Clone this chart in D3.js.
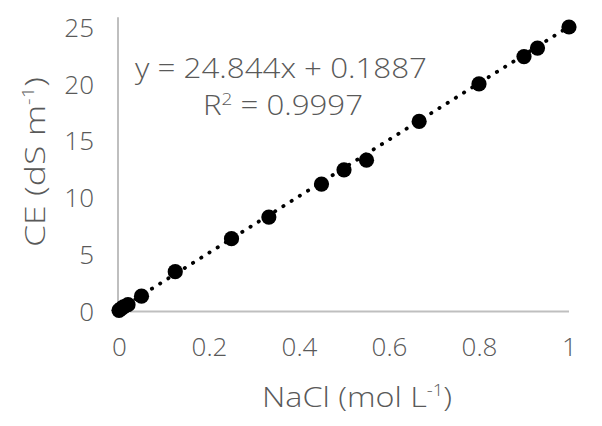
<!DOCTYPE html>
<html>
<head>
<meta charset="utf-8">
<script src="https://cdn.jsdelivr.net/npm/d3@7"></script>
<style>
  html, body { margin: 0; padding: 0; background: #ffffff; }
  svg { display: block; }
  text { font-family: "Open Sans", sans-serif; font-weight: 300; fill: #595959; }
</style>
</head>
<body>
<svg id="chart" width="602" height="426"></svg>
<script>
// Data
const nacl = [0, 0.005, 0.01, 0.02, 0.05, 0.125, 0.25, 0.333, 0.45, 0.5, 0.55, 0.667, 0.8, 0.9, 0.93, 1.0];
const ce   = [0.1, 0.25, 0.4, 0.6, 1.35, 3.5, 6.4, 8.3, 11.2, 12.45, 13.3, 16.7, 20.0, 22.4, 23.15, 25.0];
const xTicks = [0, 0.2, 0.4, 0.6, 0.8, 1];
const xTickLabels = ["0", "0.2", "0.4", "0.6", "0.8", "1"];
const yTicks = [0, 5, 10, 15, 20, 25];
const slope = 24.844, intercept = 0.1887;
const eqText = "y = 24.844x + 0.1887";
const r2Value = "0.9997";

const svg = d3.select("#chart");
const x = d3.scaleLinear().domain([0, 1]).range([119, 569]);
const y = d3.scaleLinear().domain([0, 25]).range([311.5, 27]);
const axisColor = "#bfbfbf";
const textFont = "Open Sans";

// Axis lines
const xAxis = d3.axisBottom(x).tickValues(xTicks).tickSize(0).tickFormat((d, i) => xTickLabels[i]);
const gx = svg.append("g").attr("transform", `translate(0,${y(0)})`).call(xAxis);
gx.select(".domain").attr("stroke", axisColor).attr("stroke-width", 2).attr("d", `M${x(0) - 1},0H${x(1)}`);
gx.selectAll(".tick text").attr("font-size", 26).attr("font-family", textFont).attr("font-weight", 300).attr("fill", "#595959").attr("dy", 0).attr("y", 44);

const yAxis = d3.axisLeft(y).tickValues(yTicks).tickSize(0);
const gy = svg.append("g").attr("transform", `translate(${x(0) - 1},0)`).call(yAxis);
gy.select(".domain").attr("stroke", axisColor).attr("stroke-width", 2).attr("d", `M0,${y(0)}V${y(25.85)}`);
gy.selectAll(".tick text").attr("font-size", 26).attr("font-family", textFont).attr("font-weight", 300).attr("fill", "#595959").attr("x", -24).attr("dy", "0.35em");
svg.selectAll(".tick line").remove();

// Trendline (dotted)
svg.append("line")
  .attr("x1", x(0)).attr("y1", y(intercept))
  .attr("x2", x(1)).attr("y2", y(slope + intercept))
  .attr("stroke", "#000").attr("stroke-width", 3.8)
  .attr("stroke-linecap", "round")
  .attr("stroke-dasharray", "0.3 9.4");

// Points
svg.append("g").selectAll("circle")
  .data(nacl.map((v, i) => [v, ce[i]]))
  .join("circle")
  .attr("cx", d => x(d[0]))
  .attr("cy", d => y(d[1]))
  .attr("r", 7.6)
  .attr("fill", "#000");

// Equation labels
svg.append("text")
  .attr("x", 135).attr("y", 78)
  .attr("font-size", 28)
  .attr("textLength", 292).attr("lengthAdjust", "spacingAndGlyphs")
  .text(eqText);

const r2 = svg.append("text")
  .attr("x", 203).attr("y", 115)
  .attr("font-size", 28)
  .attr("textLength", 160).attr("lengthAdjust", "spacingAndGlyphs");
r2.append("tspan").text("R");
r2.append("tspan").attr("font-size", 17).attr("dy", -10).text("2");
r2.append("tspan").attr("dy", 10).text(" = " + r2Value);

// Axis titles
const xt = svg.append("text")
  .attr("x", 262).attr("y", 407)
  .attr("font-size", 28)
  .attr("textLength", 190).attr("lengthAdjust", "spacingAndGlyphs");
xt.append("tspan").text("NaCl (mol L");
xt.append("tspan").attr("font-size", 16).attr("dy", -11).text("-1");
xt.append("tspan").attr("dy", 11).text(")");

const yt = svg.append("text")
  .attr("transform", "translate(45,247) rotate(-90)")
  .attr("font-size", 28)
  .attr("textLength", 170).attr("lengthAdjust", "spacingAndGlyphs");
yt.append("tspan").text("CE (dS m");
yt.append("tspan").attr("font-size", 16).attr("dy", -11).text("-1");
yt.append("tspan").attr("dy", 11).text(")");
</script>
</body>
</html>
